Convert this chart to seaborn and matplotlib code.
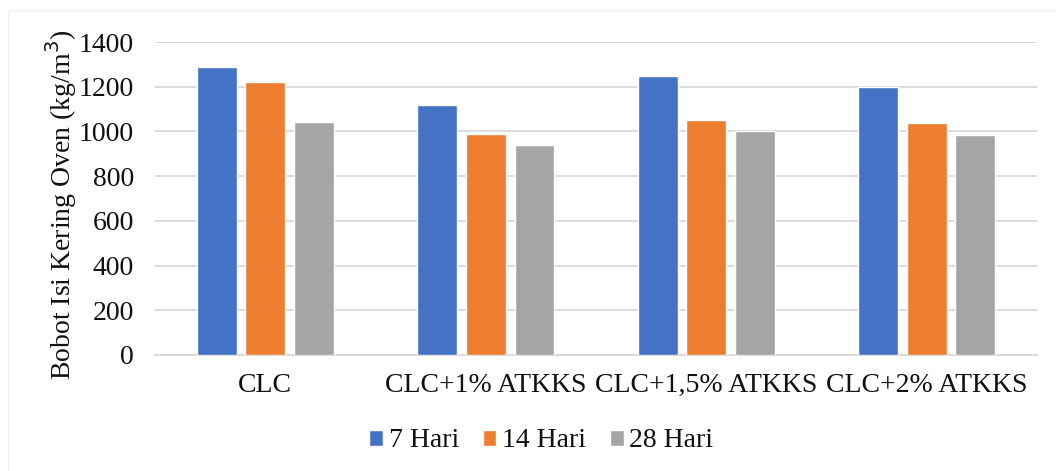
import matplotlib
matplotlib.use("Agg")
import matplotlib.pyplot as plt
import seaborn as sns
import pandas as pd
from matplotlib.patches import Rectangle

# Oven-dry density of CLC mixes at three curing ages
categories = ["CLC", "CLC+1% ATKKS", "CLC+1,5% ATKKS", "CLC+2% ATKKS"]
series_names = ["7 Hari", "14 Hari", "28 Hari"]
hari_7 = [1288, 1120, 1246, 1200]
hari_14 = [1223, 989, 1051, 1036]
hari_28 = [1040, 940, 1000, 985]
colors = ["#4472C4", "#ED7D31", "#A5A5A5"]
y_ticks = [0, 200, 400, 600, 800, 1000, 1200, 1400]

rows = []
for name, vals in zip(series_names, [hari_7, hari_14, hari_28]):
    for cat, v in zip(categories, vals):
        rows.append({"Campuran": cat, "Umur": name, "Bobot": v})
df = pd.DataFrame(rows)

sns.set_theme(style="white")
plt.rcParams["font.family"] = ["Liberation Serif", "DejaVu Serif"]

FS = 20
fig = plt.figure(figsize=(10.56, 4.71), dpi=100)
ax = fig.add_axes([0.1468, 0.2463, 0.982 - 0.1468, 0.9108 - 0.2463])

sns.barplot(data=df, x="Campuran", y="Bobot", hue="Umur", order=categories,
            hue_order=series_names, palette=colors, width=0.663, gap=0.18,
            saturation=1, errorbar=None, ax=ax, zorder=3)

ax.set_ylim(0, 1400)
ax.set_xlim(-0.5, len(categories) - 0.5)
ax.set_yticks(y_ticks)
ax.set_yticklabels([str(t) for t in y_ticks])
ax.yaxis.grid(True, color="#D9D9D9", linewidth=1.3, zorder=0)
ax.set_axisbelow(True)
for side in ["left", "right", "top"]:
    ax.spines[side].set_visible(False)
ax.spines["bottom"].set_color("#D9D9D9")
ax.spines["bottom"].set_linewidth(1.3)
ax.tick_params(axis="both", length=0, labelsize=FS, colors="#111111")
ax.tick_params(axis="y", pad=15)
ax.tick_params(axis="x", pad=13)
ax.set_xlabel("")
ax.set_ylabel("Bobot Isi Kering Oven (kg/m$^3$)", fontsize=FS, color="#111111")
ax.yaxis.set_label_coords(-0.086, 0.48)

handles, labels = ax.get_legend_handles_labels()
ax.legend_.remove()
fig.legend(handles, labels, loc="center", bbox_to_anchor=(0.5125, 0.0637),
           ncol=3, frameon=False, fontsize=FS, handlelength=0.5,
           handleheight=0.5, handletextpad=0.2, columnspacing=0.85,
           labelcolor="#111111")

# light chart-area border
fig.patches.append(Rectangle((8 / 1056, -0.05), 1.1, 1 - 11 / 471 + 0.05,
                             transform=fig.transFigure, fill=False,
                             edgecolor="#EEEEEE", linewidth=1.0))

fig.savefig("out.png", dpi=100)
